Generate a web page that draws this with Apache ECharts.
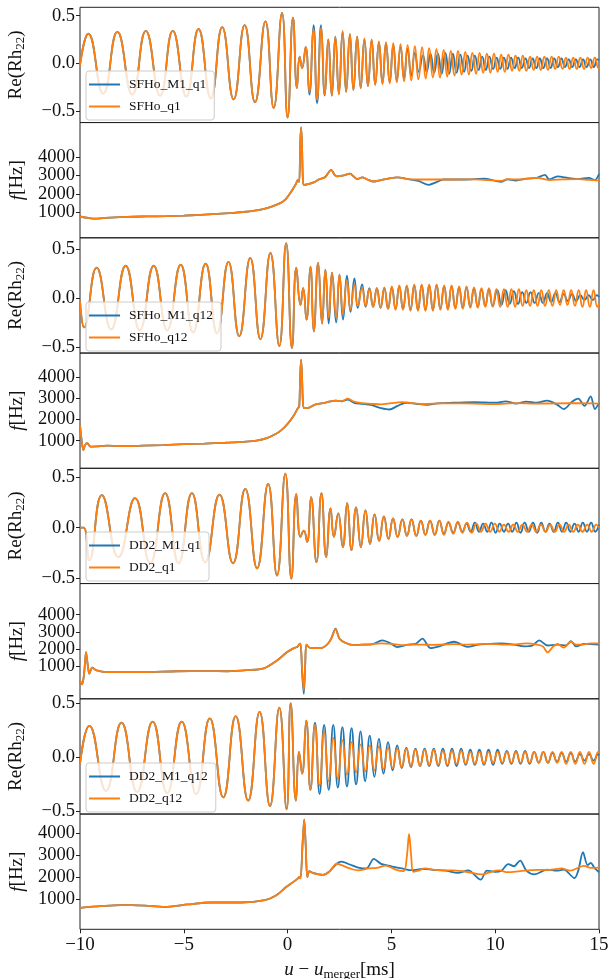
<!DOCTYPE html>
<html><head><meta charset="utf-8">
<script src="https://cdn.jsdelivr.net/npm/echarts@6/dist/echarts.min.js"></script>
<style>html,body{margin:0;padding:0;background:#fff}#c{width:608px;height:979px}</style>
</head><body><div id="c"></div>
<script>
// ---------- tick labels / categories ----------
const xTicks = [-10, -5, 0, 5, 10, 15];
const reTicks = [-0.5, 0, 0.5];
const fTicks = [1000, 2000, 3000, 4000];
const legendNames = [
  ['SFHo_M1_q1', 'SFHo_q1'],
  ['SFHo_M1_q12', 'SFHo_q12'],
  ['DD2_M1_q1', 'DD2_q1'],
  ['DD2_M1_q12', 'DD2_q12']
];

// ---------- panel 1: Re(Rh22) SFHo q1 (extrema) ----------
const p1Shared = [[-10,-0.02],[-9.60,0.31],[-8.88,-0.32],[-8.20,0.33],[-7.48,-0.33],[-6.83,0.34],[-6.14,-0.34],[-5.53,0.34],[-4.88,-0.35],[-4.29,0.36],[-3.70,-0.37],[-3.15,0.38],[-2.60,-0.38],[-2.07,0.40],[-1.57,-0.41],[-1.07,0.44],[-0.67,-0.47],[-0.27,0.53],[0.0,-0.57],[0.26,0.48],[0.45,-0.26],[0.58,0.07],[0.70,-0.05],[0.87,0.17]];
const p1Blue = [[1.05,-0.33],[1.25,0.40],[1.42,-0.42],[1.61,0.40],[1.79,-0.34],[1.96,0.25],[2.13,-0.34],[2.30,0.28],[2.47,-0.32],[2.65,0.33],[2.82,-0.30],[3.00,0.30],[3.17,-0.28],[3.35,0.28],[3.52,-0.26],[3.70,0.25],[3.87,-0.24],[4.05,0.24],[4.22,-0.22],[4.40,0.22],[4.57,-0.21],[4.74,0.21],[4.92,-0.20],[5.09,0.19],[5.26,-0.18],[5.44,0.17],[5.61,-0.16],[5.78,0.15],[5.96,-0.13],[6.13,0.11],[6.32,-0.09],[6.52,0.08],[6.70,-0.09],[6.88,0.10],[7.06,-0.10],[7.24,0.10],[7.42,-0.11],[7.60,0.11],[7.78,-0.11],[7.96,0.10],[8.14,-0.10],[8.32,0.09],[8.50,-0.09],[8.67,0.08],[8.85,-0.08],[9.02,0.08],[9.20,-0.07],[9.37,0.07],[9.55,-0.07],[9.72,0.07],[9.90,-0.06],[10.07,0.06],[10.24,-0.06],[10.42,0.06],[10.59,-0.06],[10.76,0.06],[10.94,-0.05],[11.11,0.06],[11.28,-0.05],[11.46,0.05],[11.63,-0.05],[11.80,0.05],[11.98,-0.05],[12.15,0.05],[12.32,-0.05],[12.50,0.05],[12.67,-0.05],[12.84,0.05],[13.02,-0.04],[13.19,0.05],[13.36,-0.04],[13.54,0.04],[13.71,-0.04],[13.88,0.04],[14.06,-0.04],[14.23,0.04],[14.40,-0.04],[14.58,0.04],[14.75,-0.04],[14.92,0.04],[15.0,0.03]];
const p1Orange = [[1.05,-0.30],[1.24,0.36],[1.42,-0.38],[1.62,0.37],[1.79,-0.33],[1.96,0.25],[2.13,-0.34],[2.30,0.28],[2.47,-0.33],[2.65,0.34],[2.82,-0.30],[3.00,0.31],[3.17,-0.28],[3.35,0.28],[3.52,-0.26],[3.70,0.26],[3.87,-0.24],[4.05,0.25],[4.22,-0.23],[4.40,0.23],[4.57,-0.22],[4.74,0.22],[4.92,-0.21],[5.09,0.21],[5.26,-0.20],[5.44,0.20],[5.61,-0.19],[5.78,0.19],[5.96,-0.18],[6.13,0.18],[6.30,-0.17],[6.48,0.17],[6.65,-0.16],[6.82,0.16],[7.00,-0.15],[7.17,0.15],[7.34,-0.15],[7.52,0.14],[7.69,-0.14],[7.86,0.13],[8.04,-0.13],[8.21,0.13],[8.38,-0.12],[8.56,0.12],[8.73,-0.12],[8.90,0.11],[9.08,-0.11],[9.25,0.11],[9.42,-0.10],[9.60,0.10],[9.77,-0.10],[9.94,0.10],[10.12,-0.09],[10.29,0.09],[10.46,-0.09],[10.64,0.09],[10.81,-0.08],[10.98,0.08],[11.16,-0.08],[11.33,0.08],[11.50,-0.08],[11.68,0.07],[11.85,-0.07],[12.02,0.07],[12.20,-0.07],[12.37,0.07],[12.54,-0.07],[12.72,0.07],[12.89,-0.06],[13.06,0.07],[13.24,-0.06],[13.41,0.06],[13.58,-0.06],[13.76,0.06],[13.93,-0.06],[14.10,0.06],[14.28,-0.06],[14.45,0.06],[14.62,-0.05],[14.80,0.06],[14.97,-0.05],[15.0,-0.04]];

// ---------- panel 2: f [Hz] SFHo q1 ----------
const p2Shared = [[-10,760],[-9.6,680],[-9.28,640],[-8.9,670],[-8.55,700],[-7.75,745],[-6.8,765],[-5.82,780],[-5.0,810],[-4.21,850],[-3.4,900],[-2.6,960],[-2.0,1020],[-1.64,1070],[-1.3,1130],[-1.0,1220],[-0.7,1330],[-0.35,1490],[-0.1,1700],[0.13,2040],[0.38,2490],[0.50,2760],[0.56,2650],[0.61,4800],[0.65,5620],[0.69,4800],[0.74,2700],[0.80,2480],[1.0,2530],[1.26,2620],[1.5,2780],[1.8,2900],[2.1,3310],[2.25,3050],[2.38,2950],[2.7,3000],[3.0,3100],[3.2,2930],[3.35,2800],[3.6,2900],[3.84,2780],[4.16,2670],[4.5,2750],[5.28,2900]];
const p2Blue = [[5.8,2800],[6.3,2700],[6.8,2490],[7.2,2650],[7.5,2780],[8.5,2780],[9.5,2830],[10.27,2650],[10.6,2790],[11.0,2720],[11.5,2830],[12.0,2870],[12.4,3030],[12.6,2780],[13.0,2950],[13.5,2870],[14.0,2800],[14.5,2870],[14.8,2750],[15.0,3080]];
const p2Orange = [[5.8,2800],[6.3,2780],[7.0,2780],[8.0,2780],[9.0,2790],[10.27,2700],[10.6,2800],[11.2,2780],[12.0,2870],[12.6,2750],[13.3,2790],[14.0,2800],[14.5,2760],[15.0,2720]];

// ---------- panel 3: Re(Rh22) SFHo q12 ----------
const p3Shared = [[-10,-0.03],[-9.8,-0.30],[-9.2,0.31],[-8.5,-0.32],[-7.8,0.33],[-7.12,-0.33],[-6.45,0.33],[-5.8,-0.33],[-5.15,0.34],[-4.55,-0.35],[-3.95,0.35],[-3.40,-0.36],[-2.85,0.37],[-2.33,-0.39],[-1.80,0.41],[-1.31,-0.42],[-0.83,0.46],[-0.40,-0.49],[-0.07,0.56],[0.21,-0.51],[0.42,0.31],[0.62,-0.07],[0.75,0.10],[0.91,-0.22],[1.10,0.32],[1.26,-0.34],[1.47,0.36],[1.66,-0.26],[1.82,0.29]];
const p3Blue = [[1.98,-0.26],[2.14,0.26],[2.34,-0.25],[2.50,0.24],[2.67,-0.22],[2.86,0.23],[3.03,-0.14],[3.22,0.20],[3.38,-0.10],[3.59,0.14],[3.76,-0.09],[3.94,0.10],[4.12,-0.09],[4.30,0.10],[4.48,-0.10],[4.66,0.10],[4.84,-0.11],[5.02,0.11],[5.20,-0.11],[5.38,0.12],[5.56,-0.11],[5.74,0.12],[5.92,-0.12],[6.10,0.13],[6.28,-0.12],[6.46,0.13],[6.64,-0.12],[6.82,0.13],[7.00,-0.12],[7.18,0.13],[7.36,-0.11],[7.54,0.12],[7.72,-0.11],[7.90,0.12],[8.08,-0.10],[8.26,0.11],[8.44,-0.10],[8.62,0.11],[8.80,-0.09],[8.98,0.10],[9.16,-0.09],[9.34,0.09],[9.52,-0.08],[9.70,0.09],[9.88,-0.08],[10.10,0.08],[10.30,-0.07],[10.50,0.08],[10.70,-0.06],[10.90,0.07],[11.10,-0.06],[11.30,0.06],[11.50,-0.05],[11.70,0.06],[11.90,-0.05],[12.10,0.05],[12.30,-0.05],[12.50,0.05],[12.70,-0.04],[12.90,0.05],[13.10,-0.04],[13.30,0.04],[13.50,-0.03],[13.70,0.04],[13.90,-0.03],[14.10,0.03],[14.30,-0.02],[14.50,0.03],[14.70,-0.02],[14.90,0.03],[15.0,0.01]];
const p3Orange = [[1.98,-0.20],[2.14,0.26],[2.34,-0.20],[2.50,0.24],[2.67,-0.16],[2.86,0.18],[3.03,-0.12],[3.22,0.14],[3.38,-0.08],[3.59,0.10],[3.76,-0.08],[3.94,0.09],[4.12,-0.09],[4.30,0.10],[4.48,-0.10],[4.66,0.11],[4.84,-0.11],[5.02,0.12],[5.20,-0.12],[5.38,0.13],[5.56,-0.12],[5.74,0.13],[5.92,-0.13],[6.10,0.14],[6.28,-0.13],[6.46,0.14],[6.64,-0.13],[6.82,0.14],[7.00,-0.13],[7.18,0.14],[7.36,-0.12],[7.54,0.13],[7.72,-0.12],[7.90,0.13],[8.08,-0.11],[8.26,0.12],[8.44,-0.11],[8.62,0.12],[8.80,-0.10],[8.98,0.11],[9.16,-0.10],[9.34,0.10],[9.52,-0.09],[9.70,0.10],[9.88,-0.09],[10.06,0.09],[10.24,-0.09],[10.42,0.09],[10.60,-0.09],[10.78,0.09],[10.96,-0.09],[11.14,0.09],[11.32,-0.08],[11.50,0.08],[11.68,-0.08],[11.86,0.08],[12.04,-0.08],[12.22,0.08],[12.40,-0.08],[12.58,0.08],[12.76,-0.08],[12.94,0.08],[13.12,-0.07],[13.30,0.08],[13.48,-0.07],[13.66,0.08],[13.84,-0.08],[14.02,0.08],[14.20,-0.09],[14.38,0.08],[14.56,-0.09],[14.74,0.08],[14.92,-0.09],[15.0,-0.06]];

// ---------- panel 4: f [Hz] SFHo q12 ----------
const p4Shared = [[-10,1750],[-9.92,1000],[-9.84,560],[-9.75,800],[-9.65,880],[-9.5,720],[-9.2,730],[-8.7,760],[-8.0,740],[-7.0,760],[-6.0,790],[-5.0,830],[-4.0,860],[-3.0,900],[-2.0,950],[-1.5,1000],[-1.0,1120],[-0.6,1300],[-0.3,1500],[0.0,1800],[0.3,2200],[0.50,2550],[0.56,2600],[0.61,4200],[0.65,4850],[0.69,4200],[0.74,2800],[0.80,2550],[1.0,2560],[1.3,2700],[1.7,2780],[2.0,2850],[2.3,2900],[2.6,2870]];
const p4Blue = [[2.9,2950],[3.2,2800],[3.6,2750],[4.0,2700],[4.5,2550],[4.9,2480],[5.3,2650],[5.7,2800],[6.2,2750],[6.7,2700],[7.2,2770],[8.0,2800],[9.0,2830],[10.0,2800],[10.5,2870],[11.0,2760],[11.5,2850],[12.0,2800],[12.5,2900],[13.0,2700],[13.3,2500],[13.7,2850],[14.0,3000],[14.3,2650],[14.6,3100],[14.8,2500],[15.0,2780]];
const p4Orange = [[2.9,3000],[3.2,2850],[3.6,2780],[4.0,2750],[4.5,2720],[5.0,2780],[5.5,2830],[6.0,2780],[6.5,2740],[7.0,2760],[8.0,2770],[9.0,2760],[10.0,2740],[11.0,2780],[12.0,2760],[13.0,2770],[14.0,2780],[15.0,2760]];

// ---------- panel 5: Re(Rh22) DD2 q1 ----------
const p5Shared = [[-10,0.0],[-9.82,0.0],[-9.55,-0.32],[-8.95,0.32],[-8.15,-0.29],[-7.35,0.29],[-6.62,-0.35],[-5.90,0.34],[-5.25,-0.35],[-4.61,0.34],[-3.97,-0.34],[-3.28,0.325],[-2.63,-0.35],[-2.04,0.38],[-1.47,-0.40],[-0.94,0.43],[-0.51,-0.47],[-0.11,0.53],[0.18,-0.50],[0.42,0.33],[0.62,-0.09],[0.78,-0.03],[0.94,-0.14],[1.13,0.30],[1.39,-0.34],[1.63,0.34],[1.86,-0.29],[2.07,0.19],[2.23,-0.09],[2.44,0.14],[2.66,-0.19],[2.87,0.24],[3.08,-0.22],[3.30,0.20],[3.53,-0.19],[3.75,0.17],[3.97,-0.16],[4.19,0.13],[4.41,-0.13],[4.64,0.11],[4.86,-0.11],[5.08,0.09],[5.30,-0.09],[5.53,0.08],[5.75,-0.08],[5.97,0.08],[6.20,-0.08],[6.42,0.07],[6.64,-0.07],[6.86,0.07],[7.09,-0.07],[7.31,0.07]];
const p5Blue = [[7.53,-0.06],[7.75,0.05],[7.98,-0.05],[8.20,0.05],[8.42,-0.04],[8.62,0.04],[8.82,-0.04],[9.02,0.05],[9.22,-0.04],[9.42,0.04],[9.62,-0.04],[9.82,0.05],[10.02,-0.05],[10.22,0.04],[10.42,-0.04],[10.62,0.04],[10.82,-0.04],[11.02,0.05],[11.22,-0.05],[11.42,0.05],[11.62,-0.04],[11.82,0.05],[12.02,-0.05],[12.22,0.05],[12.42,-0.04],[12.62,0.04],[12.82,-0.04],[13.02,0.05],[13.22,-0.04],[13.42,0.05],[13.62,-0.04],[13.82,0.04],[14.02,-0.04],[14.22,0.05],[14.42,-0.04],[14.62,0.05],[14.82,-0.04],[15.0,0.03]];
const p5Orange = [[7.53,-0.07],[7.75,0.06],[7.98,-0.06],[8.20,0.06],[8.42,-0.05],[8.64,0.05],[8.87,-0.05],[9.09,0.04],[9.31,-0.04],[9.53,0.04],[9.76,-0.04],[9.98,0.04],[10.20,-0.04],[10.42,0.03],[10.65,-0.04],[10.87,0.03],[11.09,-0.04],[11.31,0.03],[11.54,-0.04],[11.76,0.03],[11.98,-0.04],[12.20,0.03],[12.43,-0.04],[12.65,0.03],[12.87,-0.04],[13.09,0.03],[13.32,-0.04],[13.54,0.03],[13.76,-0.04],[13.98,0.03],[14.21,-0.04],[14.43,0.03],[14.65,-0.04],[14.87,0.03],[15.0,0.0]];

// ---------- panel 6: f [Hz] DD2 q1 ----------
const p6Shared = [[-10,165],[-9.9,-70],[-9.8,600],[-9.71,1817],[-9.63,1100],[-9.55,560],[-9.41,907],[-9.2,750],[-8.71,650],[-7.1,650],[-5.33,700],[-3.9,710],[-2.9,700],[-1.96,760],[-1.15,870],[-0.51,1330],[-0.02,1817],[0.3,2050],[0.46,2109],[0.55,2250],[0.62,2307]];
const p6Blue = [[0.70,600],[0.78,-620],[0.85,1100],[0.91,2250],[1.1,2050],[1.6,2050],[1.9,2250],[2.1,2600],[2.31,3183],[2.5,2600],[2.8,2350],[3.2,2220],[3.6,2250],[4.0,2250],[4.56,2500],[5.0,2300],[5.28,2110],[5.8,2250],[6.2,2320],[6.49,2600],[6.89,2050],[7.3,2150],[8.02,2420],[8.66,2120],[9.2,2250],[9.8,2300],[10.3,2330],[10.91,2250],[11.4,2150],[11.8,2200],[12.12,2500],[12.52,2200],[13.0,2250],[13.4,2200],[13.65,2450],[13.9,2150],[14.3,2300],[15.0,2250]];
const p6Orange = [[0.70,800],[0.78,-400],[0.85,1200],[0.91,2250],[1.1,2050],[1.6,2050],[1.9,2250],[2.1,2580],[2.31,3150],[2.5,2600],[2.8,2350],[3.2,2220],[3.6,2250],[4.0,2280],[4.5,2330],[5.0,2300],[5.5,2220],[6.0,2260],[6.5,2250],[7.0,2240],[8.0,2280],[8.5,2250],[9.0,2270],[9.5,2300],[10.0,2280],[10.5,2250],[11.0,2270],[11.5,2320],[12.0,2260],[12.3,2150],[12.52,1800],[12.8,2150],[13.0,2300],[13.3,2080],[13.65,2420],[13.9,2250],[14.2,2250],[14.6,2330],[15.0,2330]];

// ---------- panel 7: Re(Rh22) DD2 q12 ----------
const p7Shared = [[-10,-0.06],[-9.55,0.29],[-8.75,-0.31],[-8.0,0.32],[-7.25,-0.32],[-6.5,0.33],[-5.8,-0.33],[-5.1,0.33],[-4.4,-0.34],[-3.75,0.36],[-3.1,-0.37],[-2.5,0.38],[-1.9,-0.40],[-1.35,0.42],[-0.85,-0.45],[-0.4,0.46],[-0.05,-0.48],[0.15,0.50],[0.40,-0.40],[0.55,0.05],[0.70,-0.15],[0.90,0.34],[1.10,-0.30]];
const p7Blue = [[1.32,0.32],[1.54,-0.34],[1.76,0.30],[1.98,-0.30],[2.20,0.30],[2.42,-0.28],[2.64,0.28],[2.86,-0.27],[3.08,0.27],[3.30,-0.25],[3.52,0.24],[3.74,-0.22],[3.96,0.20],[4.18,-0.18],[4.40,0.17],[4.62,-0.15],[4.84,0.14],[5.06,-0.12],[5.28,0.11],[5.50,-0.10],[5.72,0.09],[5.94,-0.09],[6.16,0.08],[6.38,-0.08],[6.60,0.08],[6.82,-0.08],[7.04,0.08],[7.26,-0.08],[7.48,0.08],[7.70,-0.08],[7.92,0.08],[8.14,-0.08],[8.36,0.08],[8.58,-0.07],[8.80,0.07],[9.02,-0.07],[9.24,0.07],[9.46,-0.07],[9.68,0.07],[9.90,-0.07],[10.12,0.07],[10.34,-0.06],[10.56,0.06],[10.78,-0.06],[11.0,0.06],[11.22,-0.06],[11.44,0.06],[11.66,-0.06],[11.88,0.05],[12.10,-0.05],[12.32,0.05],[12.54,-0.05],[12.76,0.04],[12.98,-0.04],[13.20,0.04],[13.42,-0.04],[13.64,0.04],[13.86,-0.04],[14.08,0.03],[14.30,-0.03],[14.52,0.03],[14.74,-0.03],[14.96,0.03],[15.0,0.02]];
const p7Orange = [[1.32,0.30],[1.54,-0.26],[1.76,0.24],[1.98,-0.22],[2.20,0.18],[2.42,-0.20],[2.64,0.16],[2.86,-0.16],[3.08,0.14],[3.30,-0.14],[3.52,0.12],[3.74,-0.13],[3.96,0.11],[4.18,-0.12],[4.40,0.10],[4.62,-0.11],[4.84,0.09],[5.06,-0.10],[5.28,0.08],[5.50,-0.09],[5.72,0.08],[5.94,-0.08],[6.16,0.07],[6.38,-0.08],[6.60,0.07],[6.82,-0.07],[7.04,0.07],[7.26,-0.07],[7.48,0.06],[7.70,-0.07],[7.92,0.06],[8.14,-0.06],[8.36,0.06],[8.58,-0.06],[8.80,0.05],[9.02,-0.06],[9.24,0.05],[9.46,-0.06],[9.68,0.05],[9.90,-0.05],[10.12,0.05],[10.34,-0.05],[10.56,0.05],[10.78,-0.05],[11.0,0.05],[11.22,-0.05],[11.44,0.05],[11.66,-0.05],[11.88,0.05],[12.10,-0.05],[12.32,0.05],[12.54,-0.05],[12.76,0.05],[12.98,-0.05],[13.20,0.05],[13.42,-0.06],[13.64,0.05],[13.86,-0.06],[14.08,0.05],[14.30,-0.06],[14.52,0.05],[14.74,-0.06],[14.96,0.05],[15.0,0.04]];

// ---------- panel 8: f [Hz] DD2 q12 ----------
const p8Shared = [[-10,606],[-9.0,680],[-8.05,729],[-7.5,729],[-6.6,690],[-5.8,652],[-4.8,760],[-3.73,850],[-2.23,850],[-1.1,955],[-0.54,1180],[-0.07,1557],[0.3,1800],[0.49,1937],[0.55,2000],[0.62,1950],[0.72,3500],[0.80,4620],[0.87,3500],[0.95,2010],[1.05,2280],[1.2,2200],[1.71,2110],[2.0,2250],[2.37,2615]];
const p8Blue = [[2.6,2710],[3.0,2580],[3.4,2440],[3.8,2400],[4.15,2840],[4.5,2610],[5.0,2500],[5.5,2400],[6.0,2320],[6.5,2380],[7.0,2340],[7.6,2300],[8.2,2200],[8.7,2310],[9.3,1890],[9.6,2300],[10.0,2250],[10.3,2300],[10.63,2600],[10.9,2500],[11.2,2760],[11.5,2300],[11.9,2130],[12.5,2350],[12.97,2300],[13.3,2350],[13.82,1960],[14.0,2300],[14.23,3140],[14.45,2550],[14.6,2650],[14.8,2400],[15.0,2230]];
const p8Orange = [[2.6,2550],[3.0,2400],[3.4,2310],[3.9,2400],[4.3,2430],[4.72,2530],[5.2,2350],[5.6,2280],[5.75,3000],[5.85,3970],[5.95,3000],[6.05,2250],[6.3,2300],[6.6,2400],[7.2,2320],[8.0,2310],[8.6,2250],[9.4,2130],[9.8,2250],[10.2,2310],[10.6,2230],[11.2,2280],[12.0,2340],[12.6,2330],[13.2,2400],[13.6,2300],[14.28,2520],[14.6,2430],[15.0,2440]];

// ---------- assembly ----------
const BLUE = '#1f77b4', ORANGE = '#ff7f0e';
const FONT = 'Liberation Serif';
const TXT = '#111';
const panels = [
  {kind:'re', range:[-0.623,0.588], blue:p1Shared.concat(p1Blue), orange:p1Shared.concat(p1Orange), names:legendNames[0], legendTop:71},
  {kind:'f',  range:[-402,5888], blue:p2Shared.concat(p2Blue), orange:p2Shared.concat(p2Orange), names:legendNames[0]},
  {kind:'re', range:[-0.561,0.615], blue:p3Shared.concat(p3Blue), orange:p3Shared.concat(p3Orange), names:legendNames[1], legendTop:302},
  {kind:'f',  range:[-314,5162], blue:p4Shared.concat(p4Blue), orange:p4Shared.concat(p4Orange), names:legendNames[1]},
  {kind:'re', range:[-0.549,0.583], blue:p5Shared.concat(p5Blue), orange:p5Shared.concat(p5Orange), names:legendNames[2], legendTop:532},
  {kind:'f',  range:[-906,5813], blue:p6Shared.concat(p6Blue), orange:p6Shared.concat(p6Orange), names:legendNames[2]},
  {kind:'re', range:[-0.524,0.541], blue:p7Shared.concat(p7Blue), orange:p7Shared.concat(p7Orange), names:legendNames[3], legendTop:763},
  {kind:'f',  range:[-371,4878], blue:p8Shared.concat(p8Blue), orange:p8Shared.concat(p8Orange), names:legendNames[3]}
];
const TOP0 = 7.3, H = 115.25, LEFT = 80, RIGHT = 9;
const minus = s => String(s).replace('-', '\u2212');

const grids = [], xAxes = [], yAxes = [], series = [], legends = [];
const labelStyle = {fontFamily: FONT, fontSize: 18.5, color: TXT, margin: 5,
  showMinLabel: true, showMaxLabel: true, hideOverlap: false};
panels.forEach((p, i) => {
  const last = i === panels.length - 1;
  grids.push({left: LEFT, right: RIGHT, top: TOP0 + i * H, height: H, show: true,
    borderColor: '#222', borderWidth: 1, backgroundColor: 'transparent', containLabel: false, outerBoundsMode: 'none'});
  xAxes.push({type: 'value', gridIndex: i, min: -10, max: 15, interval: 5, position: 'bottom',
    axisLine: {show: false, onZero: false}, splitLine: {show: false},
    axisTick: {show: last, inside: false, length: 4, lineStyle: {color: '#222'}},
    axisLabel: {show: last, fontFamily: FONT, fontSize: 19, color: TXT, margin: 6, formatter: v => minus(v),
      showMinLabel: true, showMaxLabel: true},
    name: last ? '{i|u} \u2212 {i|u}{s|merger}[ms]' : '', nameLocation: 'middle', nameGap: 30,
    nameTextStyle: {fontFamily: FONT, fontSize: 19, color: TXT,
      rich: {i: {fontFamily: FONT, fontSize: 19, fontStyle: 'italic', color: TXT}, s: {fontFamily: FONT, fontSize: 13, color: TXT, padding: [9, 0, 0, 0]}}}
  });
  const isRe = p.kind === 're';
  const vals = isRe ? reTicks : fTicks;
  // labels split over two coincident axes so close f-labels are never dropped
  const labA = isRe ? reTicks : fTicks.filter((v, k) => k % 2 === 0);
  const labB = isRe ? [] : fTicks.filter((v, k) => k % 2 === 1);
  const fmt = v => isRe ? minus(Number(v).toFixed(1)) : String(v);
  const mainIndex = yAxes.length;
  yAxes.push({type: 'value', gridIndex: i, min: p.range[0], max: p.range[1], position: 'left', offset: 0,
    axisLine: {show: false, onZero: false}, splitLine: {show: false},
    axisTick: {show: true, length: 4, customValues: vals, lineStyle: {color: '#222'}},
    axisLabel: Object.assign({customValues: labA, formatter: fmt}, labelStyle),
    name: isRe ? 'Re(Rh{s|22})' : '{i|f}[Hz]', nameLocation: 'middle', nameRotate: 90, nameGap: 53,
    nameTextStyle: {fontFamily: FONT, fontSize: 19, color: TXT,
      rich: {i: {fontFamily: FONT, fontSize: 19, fontStyle: 'italic', color: TXT}, s: {fontFamily: FONT, fontSize: 13, color: TXT, padding: [9, 0, 0, 0]}}}
  });
  if (labB.length) {
    yAxes.push({type: 'value', gridIndex: i, min: p.range[0], max: p.range[1], position: 'left', offset: 0,
      axisLine: {show: false, onZero: false}, splitLine: {show: false}, axisTick: {show: false},
      axisLabel: Object.assign({customValues: labB, formatter: fmt}, labelStyle), name: ''});
  }
  const sm = isRe ? 0.5 : 0.3;
  series.push({name: p.names[0], type: 'line', xAxisIndex: i, yAxisIndex: mainIndex, data: p.blue,
    showSymbol: false, symbol: 'none', smooth: sm, lineStyle: {color: BLUE, width: 1.8}, itemStyle: {color: BLUE}, z: 2});
  series.push({name: p.names[1], type: 'line', xAxisIndex: i, yAxisIndex: mainIndex, data: p.orange,
    showSymbol: false, symbol: 'none', smooth: sm, lineStyle: {color: ORANGE, width: 1.8}, itemStyle: {color: ORANGE}, z: 3});
  if (isRe) {
    legends.push({orient: 'vertical', left: 86, top: p.legendTop, data: p.names,
      icon: 'rect', itemWidth: 31, itemHeight: 2, itemGap: 7, padding: [6, 8, 6, 3],
      backgroundColor: 'rgba(255,255,255,0.8)', borderColor: '#cccccc', borderWidth: 1, borderRadius: 3,
      textStyle: {fontFamily: FONT, fontSize: 13.5, color: TXT, padding: [0, 0, 0, 4], lineHeight: 15},
      selectedMode: false, z: 10});
  }
});

const chart = echarts.init(document.getElementById('c'), null, {renderer: 'canvas'});
chart.setOption({animation: false, backgroundColor: '#fff', grid: grids, xAxis: xAxes, yAxis: yAxes, series: series, legend: legends});
</script></body></html>
